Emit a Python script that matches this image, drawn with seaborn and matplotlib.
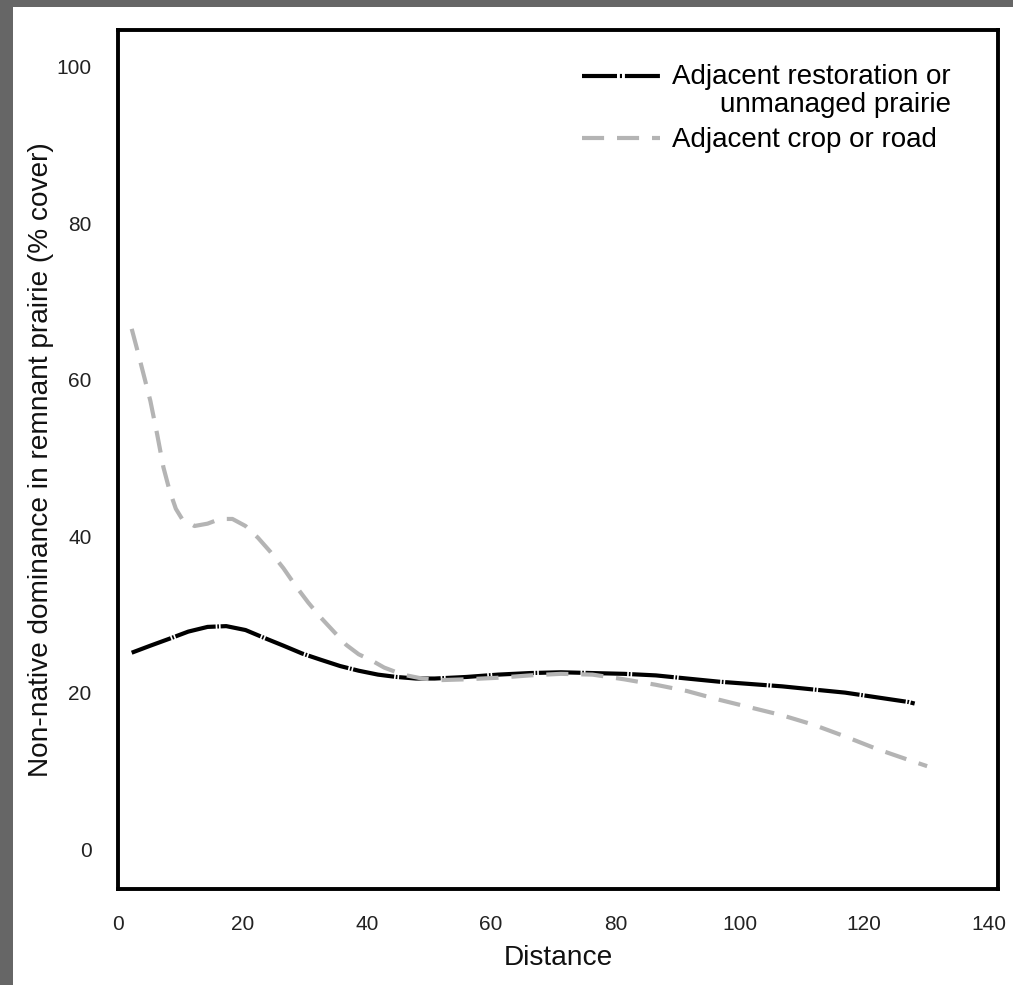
import numpy as np
import pandas as pd
import seaborn as sns
import matplotlib.pyplot as plt
from matplotlib.patches import Rectangle

# values
dist_restoration = [2.2, 5.2, 8.3, 11.3, 14.4, 17.4, 20.5, 23.5, 26.6, 29.6, 32.6, 35.7,
                    38.7, 41.8, 44.8, 47.9, 50.9, 56.0, 61.1, 66.2, 71.2, 76.3, 81.4, 86.5,
                    91.5, 96.6, 101.7, 106.8, 111.8, 116.9, 122.0, 127.1, 128.1]
cover_restoration = [25.1, 26.0, 26.9, 27.8, 28.4, 28.5, 28.0, 27.0, 26.0, 25.0, 24.2, 23.4,
                     22.8, 22.3, 22.0, 21.8, 21.8, 22.0, 22.3, 22.5, 22.6, 22.5, 22.4, 22.2,
                     21.8, 21.4, 21.1, 20.8, 20.4, 20.0, 19.4, 18.8, 18.6]

dist_crop = [2.2, 3.2, 4.2, 5.2, 6.3, 7.3, 8.3, 9.3, 10.3, 12.3, 14.4, 16.4, 18.4, 20.5,
             22.5, 24.5, 26.6, 28.6, 30.6, 32.6, 34.7, 36.7, 38.7, 40.8, 42.8, 45.8, 48.9,
             51.9, 56.0, 61.1, 66.2, 71.2, 76.3, 81.4, 86.5, 91.5, 96.6, 101.7, 106.8,
             111.8, 116.9, 122.0, 127.1, 130.1]
cover_crop = [66.5, 63.5, 60.4, 57.3, 53.0, 48.8, 45.8, 43.5, 42.2, 41.3, 41.6, 42.2, 42.2,
              41.3, 39.8, 38.0, 35.9, 33.6, 31.5, 29.6, 27.8, 26.1, 24.9, 24.1, 23.2, 22.3,
              21.8, 21.6, 21.7, 21.9, 22.2, 22.4, 22.3, 21.7, 21.0, 20.2, 19.1, 18.1, 17.1,
              15.9, 14.4, 12.8, 11.4, 10.6]

label_restoration = "Adjacent restoration or\nunmanaged prairie"
label_crop = "Adjacent crop or road"

x_ticks = [0, 20, 40, 60, 80, 100, 120, 140]
y_ticks = [0, 20, 40, 60, 80, 100]

rest = pd.DataFrame({"Distance": dist_restoration, "cover": cover_restoration})
crop = pd.DataFrame({"Distance": dist_crop, "cover": cover_crop})

sns.set_style("white")
plt.rcParams['font.family'] = ['Liberation Sans', 'DejaVu Sans']

fig = plt.figure(figsize=(10.13, 9.85), dpi=100)
fig.patch.set_facecolor("#666666")
fig.add_artist(Rectangle((13 / 1013, 0), 1 - 13 / 1013, 1 - 7 / 985,
                         transform=fig.transFigure, facecolor="white",
                         edgecolor="none", zorder=-10))
ax = fig.add_axes([0.1165, 0.0975, 0.8687, 0.872])

dashdot = (0, (8.4, 0.7, 0.5, 0.7))
sns.lineplot(data=rest, x="Distance", y="cover", ax=ax, color="black", linewidth=3,
             linestyle=(0, (10, 0.4, 0.4, 0.4)), label=label_restoration, sort=False)
sns.lineplot(data=crop, x="Distance", y="cover", ax=ax, color="#b4b4b4", linewidth=3,
             linestyle=(0, (5.3, 3.1)), label=label_crop, sort=False)

ax.set_xlim(0, 141.5)
ax.set_ylim(-5.1, 104.7)
ax.set_xticks(x_ticks)
ax.set_yticks(y_ticks)
ax.tick_params(length=0, pad=19, labelsize=15, colors="#222222")
ax.set_xlabel("Distance", fontsize=20.2, labelpad=8, color="#111111")
ax.set_ylabel("Non-native dominance in remnant prairie (% cover)", fontsize=20.2,
              labelpad=2, color="#111111")
for s in ax.spines.values():
    s.set_visible(True)
    s.set_linewidth(2.8)
    s.set_color("black")

leg = ax.legend(loc="upper right", bbox_to_anchor=(0.975, 0.99), frameon=False,
                fontsize=20, handlelength=2.8, handletextpad=0.45, labelspacing=0.35)
for t in leg.get_texts():
    t.set_multialignment("right")
    t.set_linespacing(1.1)
    t.set_color("black")
h0 = leg.legend_handles[0]
h0.set_linestyle(dashdot)
h0.set_ydata(np.asarray(h0.get_ydata()) + 11)

fig.savefig("out.png", dpi=100, facecolor=fig.get_facecolor())
